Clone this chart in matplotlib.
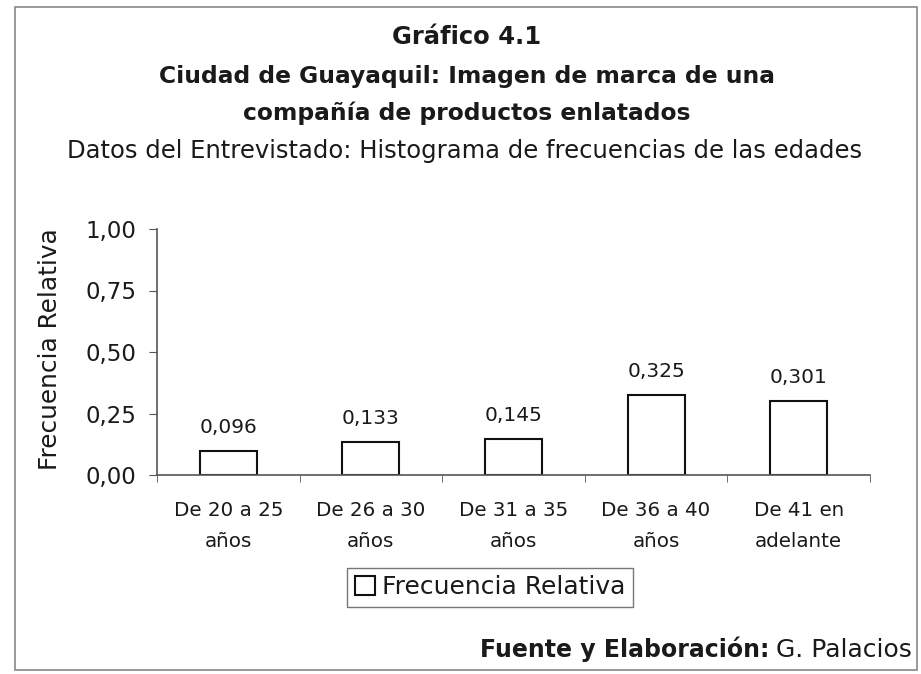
import matplotlib.pyplot as plt
from matplotlib.patches import Rectangle

categorias = ["De 20 a 25\naños", "De 26 a 30\naños", "De 31 a 35\naños",
              "De 36 a 40\naños", "De 41 en\nadelante"]
frecuencias = [0.096, 0.133, 0.145, 0.325, 0.301]
etiquetas = ["0,096", "0,133", "0,145", "0,325", "0,301"]
yticks = [0.0, 0.25, 0.50, 0.75, 1.0]
ytick_labels = ["0,00", "0,25", "0,50", "0,75", "1,00"]

plt.rcParams['font.family'] = ['DejaVu Sans']
txt = '#1a1a1a'

fig = plt.figure(figsize=(9.21, 6.74), dpi=100)
fig.patch.set_facecolor('white')

# marco del grafico
fig.patches.append(Rectangle((15 / 921, 1 - 670 / 674), 902 / 921, 663 / 674,
                             transform=fig.transFigure, fill=False,
                             edgecolor='#888888', linewidth=1.2))

ax = fig.add_axes([157 / 921, 1 - 475 / 674, 713 / 921, 246 / 674])
x = range(len(categorias))
barras = ax.bar(x, frecuencias, width=0.4, color='white', edgecolor='#111111',
                linewidth=1.5, label='Frecuencia Relativa')

for xi, v, lab in zip(x, frecuencias, etiquetas):
    ax.annotate(lab, (xi, v), xytext=(0, 10), textcoords='offset points',
                ha='center', va='bottom', fontsize=14.5, color=txt)

ax.set_xlim(-0.5, len(categorias) - 0.5)
ax.set_ylim(0, 1)
ax.set_yticks(yticks)
ax.set_yticklabels(ytick_labels, fontsize=16.5, color=txt)
ax.set_xticks(list(x))
ax.set_xticklabels(categorias, fontsize=14.3, color=txt)
for t in ax.get_xticklabels():
    t.set_linespacing(1.75)
ax.set_xticks([i - 0.5 for i in range(len(categorias) + 1)], minor=True)
ax.tick_params(axis='x', which='major', length=0, pad=19)
ax.tick_params(axis='x', which='minor', length=5, color='#555555')
ax.tick_params(axis='y', length=6, pad=9, color='#555555')

for s in ['top', 'right']:
    ax.spines[s].set_visible(False)
for s in ['left', 'bottom']:
    ax.spines[s].set_color('#555555')
    ax.spines[s].set_linewidth(1.2)

ax.set_ylabel('Frecuencia Relativa', fontsize=17.8, color=txt)
ax.yaxis.set_label_coords(-0.133, 0.51)

leg = fig.legend(handles=[barras], loc='center', bbox_to_anchor=(490 / 921, 1 - 587 / 674),
                 fontsize=18, fancybox=False, edgecolor='#777777', framealpha=1,
                 handlelength=0.8, handleheight=0.8, handletextpad=0.3,
                 borderpad=0.3)
for t in leg.get_texts():
    t.set_color(txt)

# titulos
fig.text(467 / 921, 1 - 37 / 674, 'Gráfico 4.1', ha='center', va='center',
         fontsize=17.5, fontweight='bold', color=txt)
fig.text(467 / 921, 1 - 76 / 674, 'Ciudad de Guayaquil: Imagen de marca de una',
         ha='center', va='center', fontsize=16.8, fontweight='bold', color=txt)
fig.text(467 / 921, 1 - 113 / 674, 'compañía de productos enlatados',
         ha='center', va='center', fontsize=16.8, fontweight='bold', color=txt)
fig.text(465 / 921, 1 - 151 / 674,
         'Datos del Entrevistado: Histograma de frecuencias de las edades',
         ha='center', va='center', fontsize=17.5, color=txt)

# fuente
fuente = fig.text(912 / 921, 1 - 657 / 674, 'G. Palacios', ha='right',
                  va='baseline', fontsize=18, color=txt)
fig.canvas.draw()
bb = fuente.get_window_extent()
fig.text((bb.x0 - 7) / 921, 1 - 657 / 674, 'Fuente y Elaboración:', ha='right',
         va='baseline', fontsize=17, fontweight='bold', color=txt)

fig.savefig('out.png', dpi=100)
